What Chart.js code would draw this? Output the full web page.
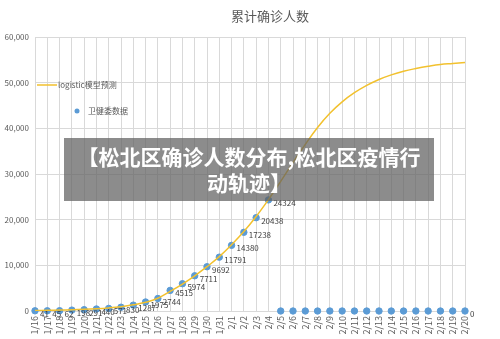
<!DOCTYPE html>
<html lang="zh">
<head>
<meta charset="UTF-8">
<script src="https://cdn.jsdelivr.net/npm/chart.js@4.4.0/dist/chart.umd.min.js"></script>
<title>累计确诊人数</title>
<style>
  body { margin: 0; background: #fff; }
  #wrap { position: relative; width: 500px; height: 339px; }
  #banner {
    position: absolute; left: 64px; top: 138px; width: 370px; height: 63px;
    background: rgba(95, 95, 95, 0.72); color: #fff;
    font-family: "Noto Sans CJK SC", sans-serif; font-weight: bold;
    font-size: 21px; line-height: 26px; text-align: center; padding-top: 5px; box-sizing: border-box;
  }
</style>
</head>
<body>
<div id="wrap">
  <canvas id="myChart" width="500" height="339"></canvas>
  <div id="banner">【松北区确诊人数分布,松北区疫情行<br>动轨迹】</div>
</div>
<script>
  // 日期
  var dates = ['1/16','1/17','1/18','1/19','1/20','1/21','1/22','1/23','1/24','1/25','1/26','1/27','1/28','1/29','1/30','1/31',
    '2/1','2/2','2/3','2/4','2/5','2/6','2/7','2/8','2/9','2/10','2/11','2/12','2/13','2/14','2/15','2/16','2/17','2/18','2/19','2/20'];
  // 卫健委数据
  var reported = [41, 45, 62, 198, 291, 440, 571, 830, 1287, 1975, 2744, 4515, 5974, 7711, 9692, 11791, 14380, 17238, 20438, 24324,
    0, 0, 0, 0, 0, 0, 0, 0, 0, 0, 0, 0, 0, 0, 0, 0];
  // logistic模型预测
  var predicted = [110, 150, 200, 270, 360, 490, 680, 950, 1350, 1900, 2800, 4300, 5900, 7700, 9700, 11900, 14500, 17400, 20700, 24400,
    28400, 32500, 36500, 40200, 43300, 45800, 47800, 49400, 50700, 51700, 52500, 53100, 53600, 54000, 54200, 54400];
  // 显示数据标签的点
  var labelShown = reported.map(function (v, i) { return i < 20 || i == reported.length - 1; });

  var FONT = '"Noto Sans CJK SC", "Liberation Sans", sans-serif';

  /* 标题、图例和数据标签 */
  var extras = {
    id: 'extras',
    afterDatasetsDraw(chart) {
      var ctx = chart.ctx;
      ctx.save();
      // 标题
      ctx.fillStyle = '#595959';
      ctx.font = '13px ' + FONT;
      ctx.textAlign = 'center';
      ctx.textBaseline = 'middle';
      ctx.fillText('累计确诊人数', 270, 16);
      // 图例
      ctx.textAlign = 'left';
      ctx.font = '8px ' + FONT;
      ctx.strokeStyle = '#f2c12e';
      ctx.lineWidth = 1.5;
      ctx.beginPath(); ctx.moveTo(37, 85); ctx.lineTo(57, 85); ctx.stroke();
      ctx.fillText('logistic模型预测', 58, 85);
      ctx.fillStyle = '#5b9bd5';
      ctx.beginPath(); ctx.arc(77, 111, 2.5, 0, Math.PI * 2); ctx.fill();
      ctx.fillStyle = '#595959';
      ctx.fillText('卫健委数据', 88, 111);
      // 数据标签
      ctx.fillStyle = '#404040';
      var meta = chart.getDatasetMeta(1);
      meta.data.forEach(function (pt, i) {
        if (!labelShown[i]) return;
        ctx.fillText(String(reported[i]), pt.x + 5, pt.y + 3);
      });
      ctx.restore();
    }
  };

  var ctx = document.getElementById('myChart').getContext('2d');
  var myChart = new Chart(ctx, {
    type: 'line',
    data: {
      labels: dates,
      datasets: [{
        label: 'logistic模型预测',
        data: predicted,
        borderColor: '#f2c12e',
        borderWidth: 1.5,
        pointRadius: 0,
        tension: 0.4,
        fill: false
      }, {
        label: '卫健委数据',
        data: reported,
        showLine: false,
        pointRadius: 3.2,
        pointBackgroundColor: '#5b9bd5',
        pointBorderColor: '#5b9bd5',
        clip: false
      }]
    },
    options: {
      responsive: false,
      animation: false,
      layout: { padding: { top: 37, right: 35, left: 0, bottom: 0 } },
      plugins: {
        legend: { display: false },
        tooltip: { enabled: false }
      },
      scales: {
        x: {
          offset: false,
          grid: { color: '#d9d9d9', drawTicks: false },
          border: { color: '#d9d9d9' },
          ticks: { autoSkip: false, minRotation: 90, maxRotation: 90, padding: 5, color: '#595959', font: { size: 9, family: FONT } },
          afterFit(s) { s.height = 28; }
        },
        y: {
          min: 0, max: 60000,
          grid: { color: '#d9d9d9', drawTicks: false },
          border: { color: '#d9d9d9' },
          ticks: { stepSize: 10000, padding: 6, color: '#595959', font: { size: 8, family: FONT } },
          afterFit(s) { s.width = 35; }
        }
      }
    },
    plugins: [extras]
  });
</script>
</body>
</html>
